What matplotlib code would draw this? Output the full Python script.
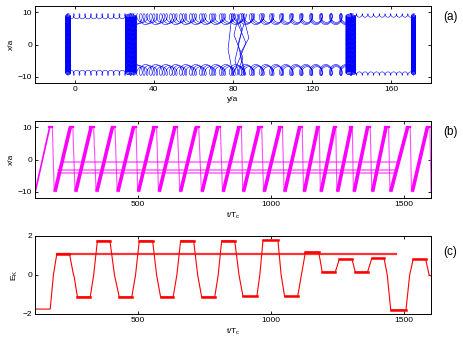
import numpy as np
import matplotlib
matplotlib.use('Agg')
import matplotlib.pyplot as plt

plt.rcParams['font.family'] = ['Liberation Sans', 'DejaVu Sans']
plt.rcParams['mathtext.fontset'] = 'custom'
plt.rcParams['mathtext.rm'] = 'Liberation Sans'

# ---- panel (a): orbit in channel ----
col_center = [-3.3, 28.4, 139.5, 171.2]   # dense vertical columns (y/a)
col_halfw = [1.2, 2.8, 2.5, 1.1]
edge_x = 9.6                               # walls at +-edge_x
# edge skipping segments: (y start, y end, loop count, loop radius, traces)
seg_y0 = [-3.3, 28.4, 139.5]
seg_y1 = [28.4, 139.5, 171.2]
seg_loops = [11, 22, 11]
seg_r = [0.8, 1.7, 0.55]
seg_traces = [1, 3, 1]
# crossings near y/a ~ 80
cross_y = [[79.5, 77.5, 80.0], [80.5, 86.5, 80.0], [83.0, 80.5, 85.0, 82.0],
           [85.0, 88.0, 83.5, 86.0], [82.0, 84.5, 81.0, 83.0], [87.0, 82.5, 86.5]]
cross_x = [[9.5, -1.5, -9.5], [9.5, 0.5, -9.5], [9.5, 3.0, -4.0, -9.5],
           [9.5, 2.0, -3.0, -9.5], [9.5, 4.5, -5.0, -9.5], [9.5, 0.0, -9.5]]

# ---- panel (b): sawtooth x/a vs t ----
ramp_start = [116, 190, 268, 347, 426, 503, 581, 661, 742, 821, 897, 975, 1052,
              1125, 1188, 1250, 1312, 1381, 1449, 1530]
ramp_peak = [170, 247, 325, 405, 484, 561, 639, 719, 800, 879, 955, 1033, 1107,
             1175, 1238, 1300, 1362, 1431, 1512, 1586]
hline_y = [-0.9, -3.3, -4.2]
hline_t0 = [222, 203, 203]
hline_t1 = [1468, 1468, 1468]

# ---- panel (c): kinetic energy E_K ----
ek_t = [116, 172, 184, 197, 244, 258, 262, 274, 322, 335, 349, 396, 413, 431, 478,
        492, 506, 556, 571, 586, 633, 647, 661, 710, 725, 740, 789, 802, 815, 864,
        880, 895, 947, 958, 970, 1026, 1038, 1051, 1100, 1114, 1129, 1179, 1192,
        1241, 1256, 1304, 1316, 1362, 1378, 1424, 1436, 1449, 1506, 1520, 1533,
        1580, 1593, 1600]
ek_v = [-1.75, -1.75, 0.0, 1.1, 1.1, 0.1, -0.1, -1.13, -1.13, 0.0, 1.75, 1.75, 0.0,
        -1.13, -1.13, 0.0, 1.75, 1.75, 0.0, -1.13, -1.13, 0.0, 1.75, 1.75, 0.0,
        -1.13, -1.13, 0.0, 1.75, 1.75, 0.0, -1.1, -1.1, 0.0, 1.77, 1.77, 0.0, -1.1,
        -1.1, 0.0, 1.17, 1.17, 0.15, 0.15, 0.8, 0.8, 0.15, 0.15, 0.85, 0.85, 0.0,
        -1.8, -1.8, 0.0, 0.8, 0.8, 0.0, -0.05]
ek_line_v = 1.1
ek_line_t = [197, 1469]

blue = '#0000ff'
mag = '#ff00ff'
red = '#ff0000'

fig = plt.figure(figsize=(4.63, 3.42), dpi=100)
ax1 = fig.add_axes([0.0756, 0.757, 0.8553, 0.2255])
ax2 = fig.add_axes([0.0756, 0.421, 0.8553, 0.225])
ax3 = fig.add_axes([0.0756, 0.082, 0.8553, 0.228])

# (a)
for c, hw in zip(col_center, col_halfw):
    for k in range(2):
        s = np.linspace(0, 2 * np.pi * 45, 45 * 40)
        frac = s / s[-1]
        if k == 1:
            frac = 1 - frac
        x = -edge_x + 0.6 + (2 * edge_x - 1.2) * frac + 0.6 * np.sin(s + k)
        y = c + hw * np.cos(s + k)
        ax1.plot(y, x, color=blue, lw=0.4)

for y0, y1, n, r, nt in zip(seg_y0, seg_y1, seg_loops, seg_r, seg_traces):
    for side in (1, -1):
        for j in range(nt):
            s = np.linspace(0, 2 * np.pi * n, n * 60)
            off = j * (y1 - y0) / n / nt
            rr = r * (1 - 0.1 * j)
            y = y0 + off + (y1 - y0 - off) * s / s[-1] - rr * 1.05 * np.sin(s)
            x = side * (edge_x - rr * (1 - np.cos(s)))
            ax1.plot(y, x, color=blue, lw=0.4)

for ys, xs in zip(cross_y, cross_x):
    ax1.plot(ys, xs, color=blue, lw=0.45)

ax1.set_xlim(-20, 180)
ax1.set_ylim(-12, 12)
ax1.set_xticks([0, 40, 80, 120, 160])
ax1.set_yticks([-10, 0, 10])
ax1.set_xlabel('y/a', fontsize=6, labelpad=2)
ax1.set_ylabel('x/a', fontsize=6, labelpad=2)

# (b)
for i in range(len(ramp_start)):
    ax2.plot([ramp_start[i], ramp_peak[i]], [-10, 10], color=mag, lw=2.6 if i > 0 else 1.2,
             solid_capstyle='butt')
    t_drop = ramp_start[i + 1] - 3 if i + 1 < len(ramp_start) else 1600
    t_top = min(ramp_peak[i] + 10, t_drop - 4)
    ax2.plot([ramp_peak[i], t_top, t_drop, t_drop + 3], [10, 10, -10, -10],
             color=mag, lw=0.8, alpha=0.7)
    ax2.plot([ramp_peak[i] - 2, t_top], [10, 10], color=mag, lw=1.6)
for yv, t0, t1 in zip(hline_y, hline_t0, hline_t1):
    ax2.plot([t0, t1], [yv, yv], color=mag, lw=1.2, alpha=0.55)

ax2.set_xlim(115, 1600)
ax2.set_ylim(-12, 12)
ax2.set_xticks([500, 1000, 1500])
ax2.set_yticks([-10, 0, 10])
ax2.set_xlabel(r'$\mathregular{t/T_c}$', fontsize=6, labelpad=2)
ax2.set_ylabel('x/a', fontsize=6, labelpad=2)

# (c)
ax3.plot(ek_line_t, [ek_line_v, ek_line_v], color=red, lw=1.6, alpha=0.8)
ax3.plot(ek_t, ek_v, color=red, lw=0.8)
for i in range(1, len(ek_t) - 1):
    if ek_v[i] == ek_v[i + 1]:
        ax3.plot([ek_t[i], ek_t[i + 1]], [ek_v[i], ek_v[i + 1]], color=red, lw=1.8)

ax3.set_xlim(115, 1600)
ax3.set_ylim(-2, 2)
ax3.set_xticks([500, 1000, 1500])
ax3.set_yticks([-2, 0, 2])
ax3.set_xlabel(r'$\mathregular{t/T_c}$', fontsize=6, labelpad=2)
ax3.set_ylabel(r'$\mathregular{E_K}$', fontsize=6, labelpad=2)

for ax in (ax1, ax2, ax3):
    ax.tick_params(direction='in', top=True, right=True, length=2.5, width=0.6,
                   labelsize=6, pad=2)
    for sp in ax.spines.values():
        sp.set_linewidth(0.7)

fig.text(0.972, 0.950, '(a)', fontsize=8.5, ha='center', va='center')
fig.text(0.972, 0.614, '(b)', fontsize=8.5, ha='center', va='center')
fig.text(0.972, 0.262, '(c)', fontsize=8.5, ha='center', va='center')

fig.savefig('out.png', dpi=100)
